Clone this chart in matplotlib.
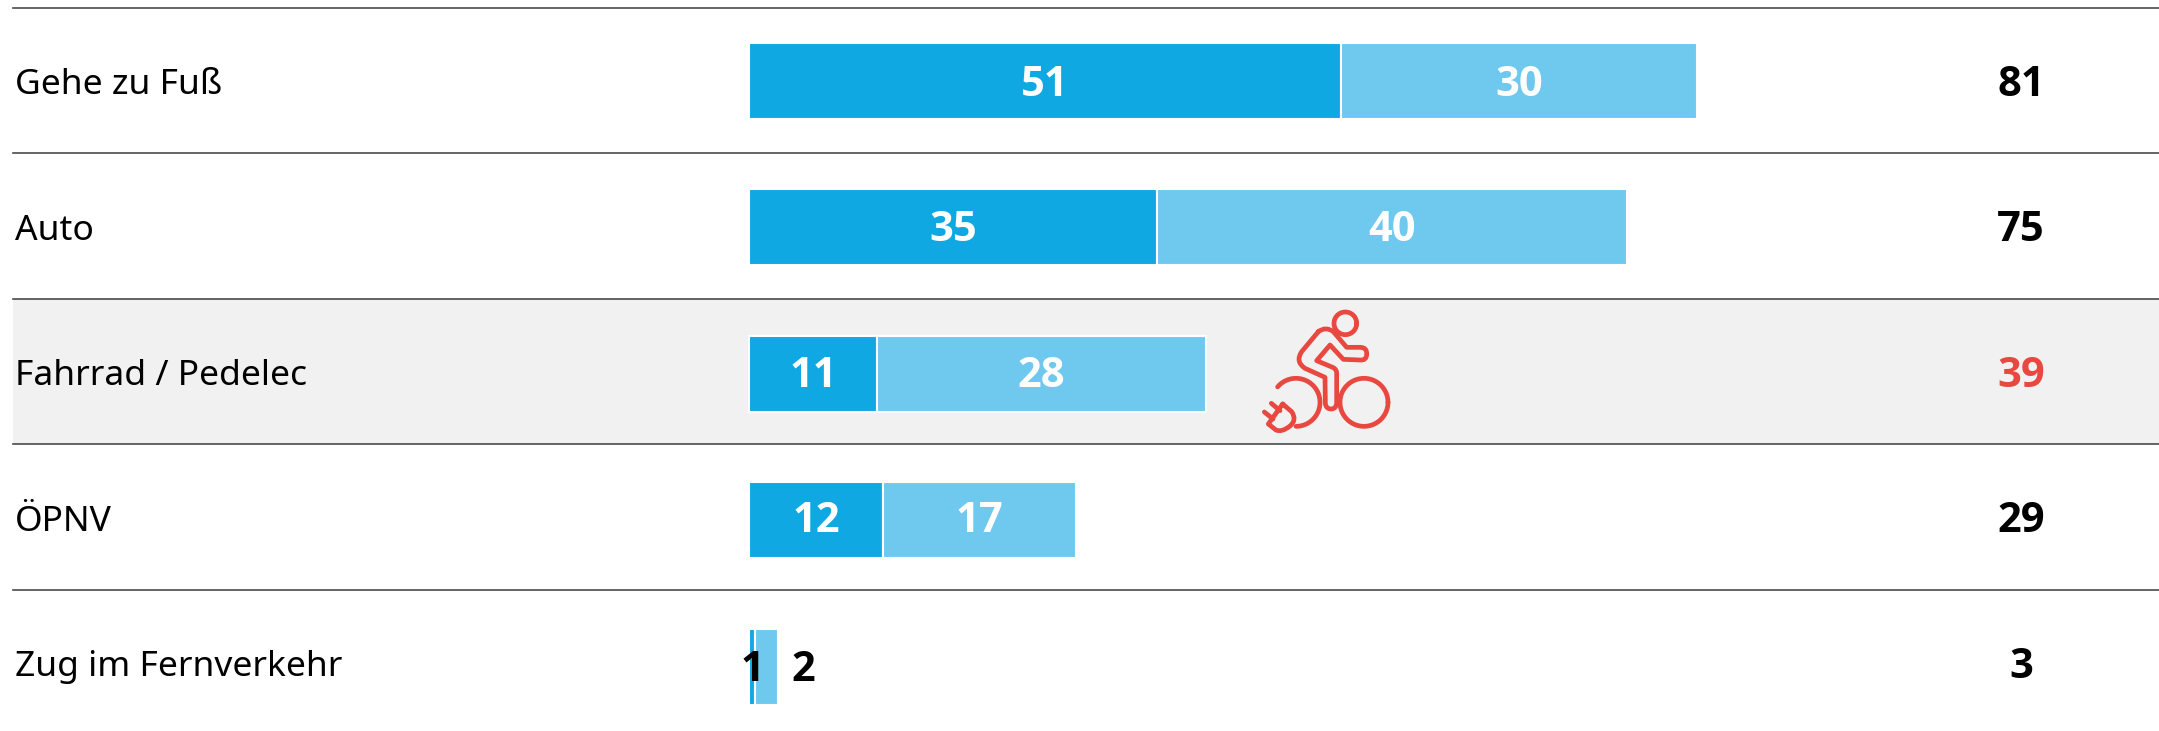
import numpy as np
import matplotlib
matplotlib.use('Agg')
import matplotlib.pyplot as plt
from matplotlib.path import Path
from matplotlib.patches import PathPatch

categories = ['Gehe zu Fuß', 'Auto', 'Fahrrad / Pedelec', 'ÖPNV', 'Zug im Fernverkehr']
# bar lengths as measured, labels as printed (the source rounds them)
dark_values = [50.7, 34.9, 11.0, 11.5, 0.5]
light_values = [30.5, 40.3, 28.1, 16.5, 2.0]
dark_labels = ['51', '35', '11', '12', '1']
light_labels = ['30', '40', '28', '17', '2']
totals = ['81', '75', '39', '29', '3']

DARK = '#10A8E2'
LIGHT = '#6FC8EE'
RED = '#E8483F'
FONT = 'Noto Sans'
BOLD = 'Open Sans'

W, H = 2159, 731
px_per_unit = 11.68
bar_left = 749
total_x = 2021

fig = plt.figure(figsize=(W / 100, H / 100), dpi=100)
ax = fig.add_axes([0, 0, 1, 1])
ax.set_xlim(-bar_left / px_per_unit, (W - bar_left) / px_per_unit)
ax.set_ylim(H, 0)
ax.axis('off')

row_y = [81 + 146.4 * i for i in range(5)]
line_y = [8 + 145.4 * i for i in range(5)]
text_y = [85 + 145.6 * i for i in range(5)]
x_left = (13 - bar_left) / px_per_unit
x_right = ax.get_xlim()[1]
x_total = (total_x - bar_left) / px_per_unit
x_label = (15 - bar_left) / px_per_unit

ax.fill_between([x_left, x_right], line_y[2], line_y[3], color='#F1F1F1', lw=0, zorder=0)
for y in line_y:
    ax.plot([x_left, x_right], [y, y], color='#4A4A4A', lw=1.2, zorder=1)

ax.barh(row_y, dark_values, height=76, color=DARK, edgecolor='white', lw=1.5, zorder=2)
ax.barh(row_y, light_values, left=dark_values, height=76, color=LIGHT, edgecolor='white', lw=1.5, zorder=2)

for i in range(5):
    ax.text(x_label, text_y[i], categories[i], fontsize=25.5, family=FONT, color='black',
            ha='left', va='center', zorder=4)
    ax.text(x_total, text_y[i], totals[i], fontsize=30, family=BOLD, weight='bold',
            color=RED if i == 2 else 'black', ha='center', va='center', zorder=4)
    if i < 4:
        dx = dark_values[i] / 2
        lx = dark_values[i] + light_values[i] / 2
        ax.text(dx, text_y[i], dark_labels[i], fontsize=30, family=BOLD, weight='bold',
                color='white', ha='center', va='center', zorder=4)
        ax.text(lx, text_y[i], light_labels[i], fontsize=30, family=BOLD, weight='bold',
                color='white', ha='center', va='center', zorder=4)

# last row does not fit, labels sit around the bar
ax.text((752 - bar_left) / px_per_unit, text_y[4] + 3, dark_labels[4], fontsize=30, family=BOLD,
        weight='bold', color='black', ha='center', va='center', zorder=4)
ax.text((803 - bar_left) / px_per_unit, text_y[4] + 3, light_labels[4], fontsize=30, family=BOLD,
        weight='bold', color='black', ha='center', va='center', zorder=4)

# e-bike icon, drawn in its own little axes
icon = fig.add_axes([1200 / W, 1 - 450 / H, 240 / W, 160 / H])
icon.set_xlim(0, 720)
icon.set_ylim(480, 0)
icon.axis('off')
icon.patch.set_alpha(0)
stroke = dict(color=RED, lw=3.4, solid_capstyle='round', solid_joinstyle='round')


def arc(cx, cy, r, a0=0, a1=360):
    t = np.radians(np.linspace(a0, a1, 120))
    icon.plot(cx + r * np.cos(t), cy + r * np.sin(t), **stroke)


def outline(start, segs):
    verts = [start]
    codes = [Path.MOVETO]
    for seg in segs:
        if len(seg) == 2:
            verts.append(seg)
            codes.append(Path.LINETO)
        else:
            verts += [seg[:2], seg[2:]]
            codes += [Path.CURVE3, Path.CURVE3]
    icon.add_patch(PathPatch(Path(verts, codes), fc='none', ec=RED, lw=3.4, joinstyle='round', capstyle='round'))


arc(436, 100, 34)
arc(492, 337, 72)
arc(288, 337, 72, -140, 90)
outline((355, 125), [(378, 108, 400, 125), (440, 172), (480, 172), (502, 172, 500, 193),
                     (500, 212, 480, 210), (430, 208), (390, 165), (350, 212), (398, 232),
                     (412, 238, 410, 255), (410, 340), (408, 357, 393, 357), (378, 357, 376, 340),
                     (375, 262), (315, 235), (285, 215, 305, 185), (355, 125)])
outline((248, 342), [(275, 365), (292, 390, 270, 408), (245, 428, 228, 420), (205, 402), (248, 342)])
icon.plot([214, 240], [340, 362], **stroke)
icon.plot([193, 219], [366, 387], **stroke)

fig.savefig('out.png', dpi=100)
